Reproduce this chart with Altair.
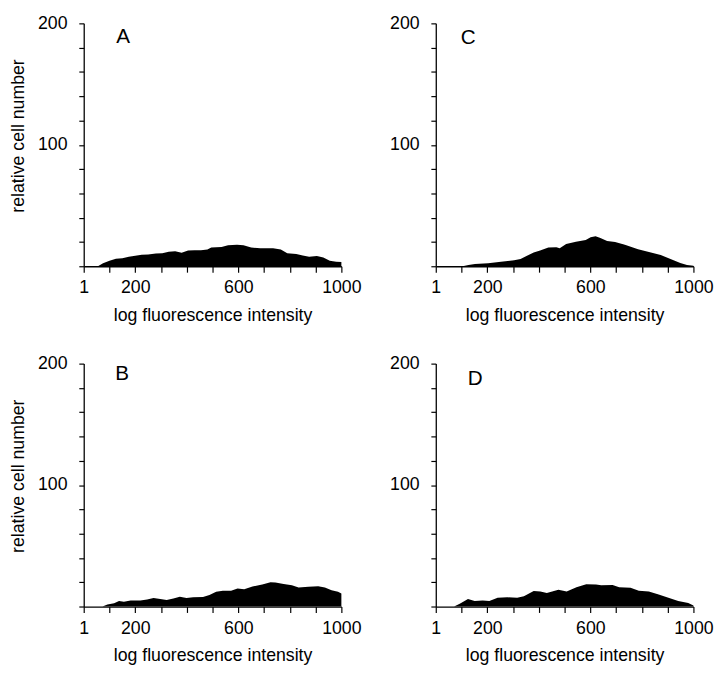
import altair as alt
import pandas as pd

# Panel A
a_x = [55, 75, 100, 125, 150, 175, 200, 225, 250, 280, 305, 330, 355, 380, 405, 430, 455, 480, 495, 535, 560, 595, 620, 650, 685, 735, 765, 790, 825, 850, 875, 905, 930, 955, 980, 1000]
a_y = [0, 2.4, 4.6, 6.2, 6.7, 7.8, 8.6, 9.4, 9.7, 10.5, 10.8, 11.9, 12.4, 11.1, 13.0, 13.2, 13.2, 13.8, 15.4, 15.9, 17.3, 17.8, 17.3, 15.4, 14.8, 14.8, 13.8, 10.8, 10.0, 8.9, 7.8, 8.4, 7.3, 4.6, 3.8, 3.5]

# Panel B
b_x = [73, 92, 118, 137, 156, 182, 220, 246, 271, 297, 322, 348, 373, 399, 425, 463, 488, 514, 540, 572, 597, 623, 655, 693, 725, 744, 776, 808, 834, 872, 910, 936, 962, 987, 1000]
b_y = [0, 1.6, 2.7, 4.6, 4.0, 4.9, 4.9, 5.7, 7.0, 6.2, 5.4, 6.7, 8.1, 7.0, 7.6, 7.8, 9.4, 12.1, 13.0, 13.0, 14.8, 14.3, 16.5, 18.1, 20.0, 19.7, 18.6, 17.5, 15.7, 16.2, 16.7, 15.7, 13.5, 12.1, 10.8]

# Panel C
c_x = [104, 127, 152, 203, 253, 304, 329, 354, 380, 405, 437, 468, 481, 506, 544, 582, 601, 620, 639, 665, 696, 734, 785, 835, 873, 911, 949, 975, 1000]
c_y = [0, 1.1, 1.9, 2.4, 3.8, 4.9, 5.9, 8.6, 11.3, 12.9, 15.4, 15.7, 14.8, 18.4, 20.2, 21.6, 23.8, 24.8, 23.2, 20.8, 20.0, 17.8, 14.0, 11.3, 9.2, 5.9, 2.7, 1.1, 0.5]

# Panel D
d_x = [71, 93, 125, 151, 182, 208, 240, 278, 316, 342, 380, 406, 431, 476, 508, 546, 584, 622, 642, 686, 712, 756, 788, 827, 865, 903, 941, 980, 1000]
d_y = [0, 2.2, 6.2, 4.6, 4.9, 4.6, 7.3, 7.6, 7.3, 8.4, 12.7, 12.4, 11.1, 13.8, 12.4, 15.9, 18.4, 18.1, 17.5, 17.8, 15.9, 15.4, 12.9, 12.4, 10.0, 7.3, 4.6, 3.0, 0.8]

x_ticks = [0, 100, 200, 300, 400, 500, 600, 700, 800, 900, 1000]
y_ticks = [0, 20, 40, 60, 80, 100, 120, 140, 160, 180, 200]

FONT = "Liberation Sans"
W, H = 262, 247


def panel(xs, ys, letter, lx, ly, left):
    df = pd.DataFrame({"x": xs, "y": ys})
    yaxis_kw = dict(
        values=y_ticks,
        labelExpr="datum.value == 100 || datum.value == 200 ? datum.label : ''",
        labelOverlap=False,
        grid=False,
        tickSize=5,
        labelPadding=12,
    )
    if left:
        yaxis_kw.update(title="relative cell number", titlePadding=10, titleY=114)
    else:
        yaxis_kw.update(title="")
    x_enc = alt.X(
        "x:Q",
        scale=alt.Scale(domain=[0, 1000], nice=False, zero=False),
        axis=alt.Axis(
            values=x_ticks,
            format="d",
            labelExpr="datum.value == 0 ? '1' : (datum.value == 200 || datum.value == 600 || datum.value == 1000 ? datum.label : '')",
            labelFlush=False,
            labelOverlap=False,
            title="log fluorescence intensity",
            grid=False,
            tickSize=6,
            labelPadding=7,
            titlePadding=10,
        ),
    )
    y_enc = alt.Y(
        "y:Q",
        scale=alt.Scale(domain=[0, 200], nice=False),
        axis=alt.Axis(**yaxis_kw),
    )
    area = alt.Chart(df).mark_area(color="black", interpolate="linear").encode(
        x=x_enc, y=y_enc
    )
    lab = alt.Chart(pd.DataFrame({"x": [lx], "y": [ly], "t": [letter]})).mark_text(
        font=FONT, fontSize=21, color="black", align="center", baseline="middle"
    ).encode(x=x_enc, y=y_enc, text="t:N")
    return alt.layer(area, lab).properties(width=W, height=H)


pa = panel(a_x, a_y, "A", 153, 189, True)
pc = panel(c_x, c_y, "C", 126, 188, False)
pb = panel(b_x, b_y, "B", 149, 191, True)
pd_ = panel(d_x, d_y, "D", 153, 187, False)

chart = alt.concat(
    pa, pc, pb, pd_, columns=2,
    spacing=alt.RowColnumber(row=99, column=96),
    bounds="flush",
).properties(
    padding={"left": 1, "top": 1, "right": 5, "bottom": 5}
).configure_view(stroke=None).configure_axis(
    domainColor="black",
    domainWidth=1.3,
    tickColor="black",
    tickWidth=1.2,
    labelColor="black",
    titleColor="black",
    labelFont=FONT,
    titleFont=FONT,
    labelFontSize=18,
    titleFontSize=18,
    titleFontWeight="normal",
)

chart.save("out.html", embed_options={"renderer": "svg", "actions": False})
